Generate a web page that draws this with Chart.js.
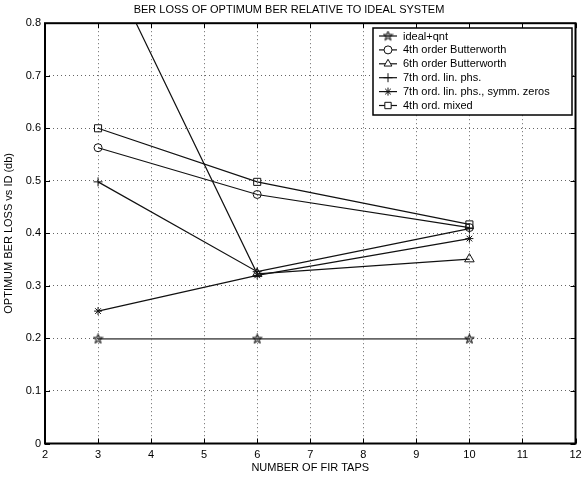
<!DOCTYPE html>
<html>
<head>
<meta charset="utf-8">
<script src="https://cdn.jsdelivr.net/npm/chart.js"></script>
<style>
  html, body { margin: 0; padding: 0; background: #fff; }
  #wrap { width: 582px; height: 477px; }
</style>
</head>
<body>
<div id="wrap"><canvas id="berChart" width="582" height="477"></canvas></div>
<script>
// data
const firTaps = [3, 6, 10];
const idealQnt = [0.199, 0.199, 0.199];
const butter4 = [0.563, 0.474, 0.411];
const butter6 = [0.95, 0.323, 0.351];
const linPhs7 = [0.498, 0.327, 0.409];
const symmZeros7 = [0.252, 0.320, 0.390];
const mixed4 = [0.600, 0.498, 0.417];

const seriesNames = [
    'ideal+qnt',
    '4th order Butterworth',
    '6th order Butterworth',
    '7th ord. lin. phs.',
    '7th ord. lin. phs., symm. zeros',
    '4th ord. mixed'
];
const xTickValues = [2, 3, 4, 5, 6, 7, 8, 9, 10, 11, 12];
const yTickValues = [0, 0.1, 0.2, 0.3, 0.4, 0.5, 0.6, 0.7, 0.8];

const FONT = '"Liberation Sans", Arial, Helvetica, sans-serif';

// five pointed star marker (not built into Chart.js)
function makePentagram() {
    const c = document.createElement('canvas');
    c.width = 11; c.height = 11;
    const g = c.getContext('2d');
    g.beginPath();
    for (let i = 0; i < 10; i++) {
        const r = i % 2 === 0 ? 5 : 2.1;
        const a = -Math.PI / 2 + i * Math.PI / 5;
        const px = 5.5 + r * Math.cos(a), py = 5.6 + r * Math.sin(a);
        if (i === 0) g.moveTo(px, py); else g.lineTo(px, py);
    }
    g.closePath();
    g.fillStyle = 'rgba(0,0,0,0.3)';
    g.fill();
    g.strokeStyle = '#111';
    g.lineWidth = 1;
    g.stroke();
    return c;
}
const pentagram = makePentagram();

const seriesValues = [idealQnt, butter4, butter6, linPhs7, symmZeros7, mixed4];
const markerStyles = [pentagram, 'circle', 'triangle', 'cross', 'star', 'rect'];
const markerSizes = [5.5, 4, 5.5, 4.5, 4, 5];

const datasets = seriesValues.map((vals, i) => ({
    label: seriesNames[i],
    data: firTaps.map((x, k) => ({ x: x, y: vals[k] })),
    borderColor: i === 0 ? '#666' : '#111',
    borderWidth: i === 0 ? 1.8 : 1.2,
    pointStyle: markerStyles[i],
    pointRadius: markerSizes[i],
    pointBorderColor: '#111',
    pointBackgroundColor: 'rgba(255,255,255,0)',
    pointBorderWidth: 1,
    tension: 0
}));

// box around plot, inward ticks and the boxed legend
const framePlugin = {
    id: 'frame',
    afterDraw(chart) {
        const ctx = chart.ctx;
        const a = chart.chartArea;
        const xs = chart.scales.x, ys = chart.scales.y;
        ctx.save();
        ctx.strokeStyle = '#000';
        ctx.lineWidth = 1;
        ctx.beginPath();
        xTickValues.forEach(v => {
            const px = Math.round(xs.getPixelForValue(v)) + 0.5;
            ctx.moveTo(px, a.bottom); ctx.lineTo(px, a.bottom - 5);
            ctx.moveTo(px, a.top); ctx.lineTo(px, a.top + 5);
        });
        yTickValues.forEach(v => {
            const py = Math.round(ys.getPixelForValue(v)) + 0.5;
            ctx.moveTo(a.left, py); ctx.lineTo(a.left + 5, py);
            ctx.moveTo(a.right, py); ctx.lineTo(a.right - 5, py);
        });
        ctx.stroke();
        ctx.lineWidth = 2;
        ctx.strokeRect(a.left, a.top, a.right - a.left, a.bottom - a.top);

        // legend
        const lx = 373, ly = 28, lw = 199, lh = 87;
        ctx.fillStyle = '#fff';
        ctx.fillRect(lx, ly, lw, lh);
        ctx.lineWidth = 1.5;
        ctx.strokeRect(lx, ly, lw, lh);
        ctx.font = '11px ' + FONT;
        ctx.textBaseline = 'middle';
        seriesNames.forEach((name, i) => {
            const y = 36 + i * 13.9;
            ctx.strokeStyle = '#111';
            ctx.lineWidth = 1.2;
            ctx.beginPath();
            ctx.moveTo(379, y); ctx.lineTo(397, y);
            ctx.stroke();
            ctx.fillStyle = '#fff';
            if (Chart.helpers && Chart.helpers.drawPoint) {
                ctx.lineWidth = 1;
                Chart.helpers.drawPoint(ctx, {
                    pointStyle: markerStyles[i],
                    radius: Math.min(markerSizes[i], 4.5),
                    borderWidth: 1,
                    rotation: 0
                }, 388, y);
            }
            ctx.fillStyle = '#000';
            ctx.fillText(name, 403, y + 0.5);
        });
        ctx.restore();
    }
};

new Chart(document.getElementById('berChart').getContext('2d'), {
    type: 'line',
    data: { datasets: datasets },
    options: {
        responsive: false,
        animation: false,
        layout: { padding: { top: 0, right: 4, left: 0, bottom: 0 } },
        plugins: {
            legend: { display: false },
            tooltip: { enabled: false },
            title: {
                display: true,
                text: 'BER LOSS OF OPTIMUM BER RELATIVE TO IDEAL SYSTEM',
                color: '#000',
                font: { family: FONT, size: 11, weight: 'normal' },
                padding: { top: 3, bottom: 7 }
            }
        },
        scales: {
            x: {
                type: 'linear',
                min: 2,
                max: 12,
                afterBuildTicks: s => { s.ticks = xTickValues.map(v => ({ value: v })); },
                afterFit: s => { s.height = 33.5; s.paddingLeft = 0; s.paddingRight = 0; },
                ticks: {
                    color: '#000',
                    font: { family: FONT, size: 11 },
                    padding: 5,
                    maxRotation: 0,
                    autoSkip: false
                },
                grid: { color: '#666', lineWidth: 1, drawTicks: false },
                border: { display: false, dash: [1, 3] },
                title: {
                    display: true,
                    text: 'NUMBER OF FIR TAPS',
                    color: '#000',
                    font: { family: FONT, size: 11 },
                    padding: { top: 0, bottom: 2 }
                }
            },
            y: {
                min: 0,
                max: 0.8,
                afterBuildTicks: s => { s.ticks = yTickValues.map(v => ({ value: v })); },
                afterFit: s => { s.width = 45; },
                ticks: {
                    color: '#000',
                    font: { family: FONT, size: 11 },
                    padding: 4,
                    callback: v => (v === 0 ? '0' : v.toFixed(1))
                },
                grid: { color: '#666', lineWidth: 1, drawTicks: false },
                border: { display: false, dash: [1, 3] },
                title: {
                    display: true,
                    text: 'OPTIMUM BER LOSS vs ID (db)',
                    color: '#000',
                    font: { family: FONT, size: 11 },
                    padding: { top: 2, bottom: 2 }
                }
            }
        }
    },
    plugins: [framePlugin]
});
</script>
</body>
</html>
